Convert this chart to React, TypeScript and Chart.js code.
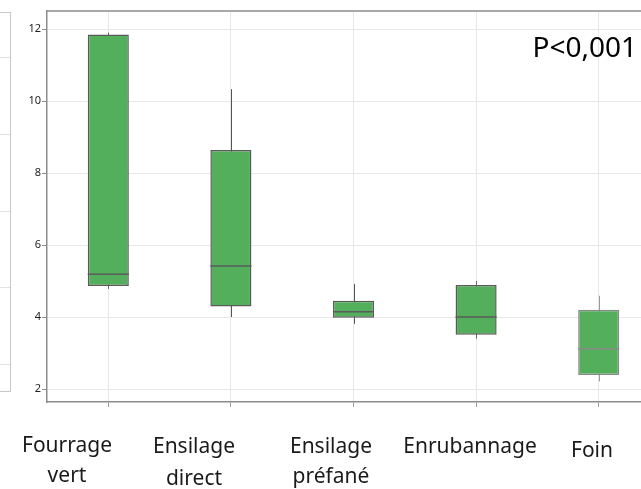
import { useEffect, useRef } from 'react';
import { Chart, registerables } from 'chart.js';

Chart.register(...registerables);

// Five forage types and the box-plot statistics for each
const categories = ['Fourrage vert', 'Ensilage direct', 'Ensilage préfané', 'Enrubannage', 'Foin'];
const labelLines = [['Fourrage', 'vert'], ['Ensilage', 'direct'], ['Ensilage', 'préfané'], ['Enrubannage'], ['Foin']];
const whiskerLow = [4.78, 4.0, 3.81, 3.4, 2.21];
const q1 = [4.86, 4.29, 3.98, 3.51, 2.39];
const median = [5.19, 5.42, 4.15, 4.0, 3.12];
const q3 = [11.85, 8.64, 4.45, 4.89, 4.2];
const whiskerHigh = [11.9, 10.33, 4.92, 5.0, 4.59];
const yTicks = [2, 4, 6, 8, 10, 12];
const pValueText = 'P<0,001';

// Layout / style constants
const Y_MIN = 1.64;
const Y_MAX = 12.5;
const boxFill = '#53af5b';
const boxBorder = ['#5a5a5a', '#5a5a5a', '#5a5a5a', '#5a5a5a', '#8a8a8a'];
const whiskerColor = ['#666666', '#555555', '#555555', '#666666', '#9a9a9a'];
const labelX = [67, 194, 331, 470, 592];
const labelBaseline = [[452, 482], [453, 485], [453, 483], [453], [457]];
const sideLines = [57, 134, 211, 287, 364];

const boxPlugin = {
  id: 'boxWhiskers',
  beforeDatasetsDraw(chart: any) {
    const { ctx } = chart;
    const y = chart.scales.y;
    const meta = chart.getDatasetMeta(0);
    ctx.save();
    ctx.lineWidth = 1;
    meta.data.forEach((bar: any, i: number) => {
      const px = Math.round(bar.x) + 0.5;
      ctx.strokeStyle = whiskerColor[i];
      ctx.beginPath();
      ctx.moveTo(px, y.getPixelForValue(whiskerLow[i]));
      ctx.lineTo(px, y.getPixelForValue(whiskerHigh[i]));
      ctx.stroke();
    });
    ctx.restore();
  },
  afterDatasetsDraw(chart: any) {
    const { ctx } = chart;
    const y = chart.scales.y;
    const meta = chart.getDatasetMeta(0);
    ctx.save();
    ctx.lineWidth = 1.5;
    meta.data.forEach((bar: any, i: number) => {
      const my = y.getPixelForValue(median[i]);
      ctx.strokeStyle = boxBorder[i];
      ctx.beginPath();
      ctx.moveTo(bar.x - bar.width / 2, my);
      ctx.lineTo(bar.x + bar.width / 2, my);
      ctx.stroke();
    });
    ctx.restore();
  },
  afterDraw(chart: any) {
    const { ctx, chartArea } = chart;
    ctx.save();
    // top and right edges of the plot frame
    ctx.strokeStyle = '#8c8c8c';
    ctx.lineWidth = 1.5;
    ctx.beginPath();
    ctx.moveTo(chartArea.left, chartArea.top);
    ctx.lineTo(chartArea.right, chartArea.top);
    ctx.lineTo(chartArea.right, chartArea.bottom);
    ctx.stroke();

    // two-line category captions
    ctx.fillStyle = '#1a1a1a';
    ctx.font = '21px "Noto Sans"';
    ctx.textAlign = 'center';
    ctx.textBaseline = 'alphabetic';
    labelLines.forEach((lines, i) => {
      lines.forEach((t, j) => ctx.fillText(t, labelX[i], labelBaseline[i][j]));
    });

    // significance note
    ctx.fillStyle = '#000000';
    ctx.font = '28px "Noto Sans"';
    ctx.textAlign = 'right';
    ctx.fillText(pValueText, 637, 57);
    ctx.restore();
  },
};

export default function App() {
  const canvasRef = useRef<HTMLCanvasElement | null>(null);

  useEffect(() => {
    const canvas = canvasRef.current;
    if (!canvas) return;
    const chart = new Chart(canvas, {
      type: 'bar',
      data: {
        labels: categories,
        datasets: [
          {
            data: categories.map((_, i) => [q1[i], q3[i]]) as any,
            backgroundColor: boxFill,
            borderColor: boxBorder,
            borderWidth: 1.5,
            borderSkipped: false,
            barPercentage: 0.335,
            categoryPercentage: 1,
          },
        ],
      },
      options: {
        responsive: false,
        animation: false,
        devicePixelRatio: 1,
        layout: { padding: { left: 0, top: 11, right: 2, bottom: 0 } },
        plugins: { legend: { display: false }, tooltip: { enabled: false } },
        scales: {
          x: {
            offset: true,
            grid: { offset: false, color: '#e8e8e8', lineWidth: 1, tickColor: '#9a9a9a', tickLength: 5 },
            border: { color: '#8c8c8c', width: 1.5 },
            ticks: { display: false },
            afterFit: (s: any) => {
              s.height = 87;
            },
          },
          y: {
            min: Y_MIN,
            max: Y_MAX,
            afterBuildTicks: (s: any) => {
              s.ticks = yTicks.map((v) => ({ value: v }));
            },
            grid: { color: '#e8e8e8', lineWidth: 1, tickColor: '#8c8c8c', tickLength: 5 },
            border: { color: '#8c8c8c', width: 1.5 },
            ticks: {
              color: '#222222',
              padding: 1,
              font: { family: 'Noto Sans', size: 11 },
            },
            afterFit: (s: any) => {
              s.width = 47;
            },
          },
        },
      },
      plugins: [boxPlugin],
    });
    return () => chart.destroy();
  }, []);

  return (
    <div
      style={{
        position: 'fixed',
        left: 0,
        top: 0,
        width: 641,
        height: 489,
        overflow: 'hidden',
        background: '#ffffff',
      }}
    >
      <div
        style={{
          position: 'absolute',
          left: 0,
          top: 12,
          width: 10,
          height: 378,
          borderTop: '1.5px solid #c8c8c8',
          borderRight: '1.5px solid #c8c8c8',
          borderBottom: '1.5px solid #c8c8c8',
        }}
      />
      {sideLines.map((yy) => (
        <div
          key={yy}
          style={{ position: 'absolute', left: 0, top: yy, width: 10, height: 1, background: '#e2e2e2' }}
        />
      ))}
      <canvas
        ref={canvasRef}
        width={662}
        height={489}
        style={{ position: 'absolute', left: 0, top: 0, width: 662, height: 489 }}
      />
    </div>
  );
}
